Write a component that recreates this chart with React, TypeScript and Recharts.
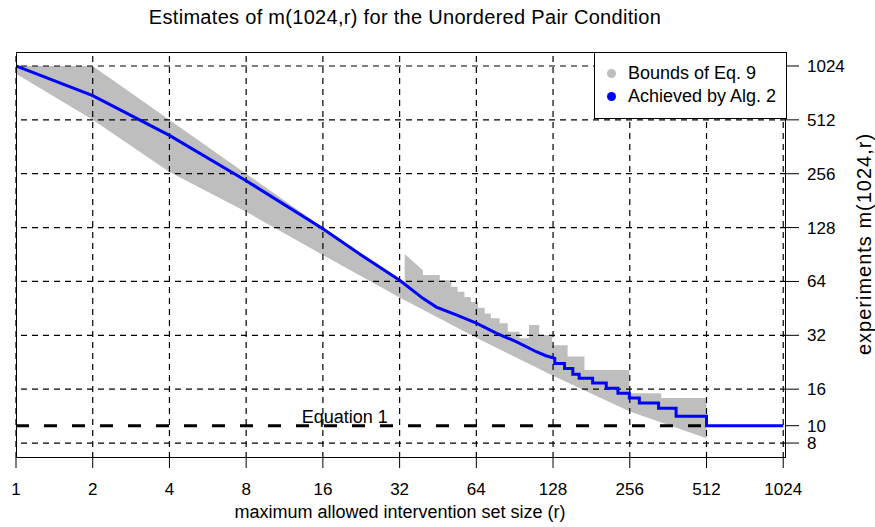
import React from 'react';
import { ComposedChart, Area, Line, XAxis, YAxis, ReferenceLine, ReferenceDot } from 'recharts';

const FONT = '"Liberation Sans", Arial, Helvetica, sans-serif';

const xTicks = [1, 2, 4, 8, 16, 32, 64, 128, 256, 512, 1024];
const yTicks = [8, 10, 16, 32, 64, 128, 256, 512, 1024];
const yGrid = [8, 16, 32, 64, 128, 256, 512, 1024];

// upper edge of the grey band (bounds of Eq. 9)
const upperR = [1, 2, 16, 22.6, 32, 33.5, 33.5, 39.5, 39.5, 46, 46, 51, 51, 54, 54, 57.5, 57.5, 61, 61, 65, 65, 69, 69, 73, 73, 79, 79, 85, 85, 94.5, 94.5, 103, 103, 113, 113, 127, 127, 146, 146, 170, 170, 255, 255, 340, 340, 512];
const upperV = [1024, 1024, 128, 91, 66, 64, 91, 74, 69.6, 69.6, 65, 65, 59.8, 59.8, 56, 56, 52.4, 52.4, 49.1, 49.1, 45.7, 45.7, 42.4, 42.4, 39.8, 39.8, 37.4, 37.4, 33.5, 33.5, 30.8, 30.8, 36.6, 36.6, 32.1, 32.1, 28.2, 28.2, 24.4, 24.4, 20.5, 20.5, 15.2, 15.2, 14.3, 14.3];

// lower edge of the grey band
const lowerR = [1, 2, 4, 8, 16, 32, 64, 128, 256, 512];
const lowerV = [926, 512, 262, 157, 90, 52, 31, 19, 12, 8.5];

// achieved by Alg. 2 (blue)
const algR = [1, 2, 4, 8, 16, 22.6, 32, 39.5, 44.6, 53.4, 64, 76.6, 91.7, 110, 120, 130, 130, 142, 142, 153, 153, 162, 162, 183, 183, 207, 207, 230, 230, 255, 255, 279, 279, 332, 332, 389, 389, 512, 512, 1024];
const algV = [1024, 699, 419, 234, 126, 90, 65, 51.5, 46, 41.6, 37.4, 32.9, 29.5, 25.9, 24.6, 23.8, 22.3, 22.3, 20.9, 20.9, 19.4, 19.4, 18.4, 18.4, 17.3, 17.3, 16.2, 16.2, 15.2, 15.2, 14.3, 14.3, 13.4, 13.4, 12.5, 12.5, 11.3, 11.3, 10, 10];

const eq1 = 10;

const upperData = upperR.map((r, i) => ({ r, v: upperV[i] }));
const lowerData = lowerR.map((r, i) => ({ r, v: lowerV[i] }));
const algData = algR.map((r, i) => ({ r, v: algV[i] }));

const legendItems = [
  { name: 'Bounds of Eq. 9', color: '#BEBEBE' },
  { name: 'Achieved by Alg. 2', color: '#0000FF' },
];

export default function App() {
  return (
    <div style={{ position: 'absolute', left: 0, top: 0, width: 875, height: 527, background: '#fff', fontFamily: FONT }}>
      <ComposedChart width={875} height={527} margin={{ top: 52, right: 0, bottom: 0, left: 16 }}>
        <XAxis
          dataKey="r"
          type="number"
          scale="log"
          domain={[1, 1050]}
          allowDataOverflow
          ticks={xTicks}
          interval={0}
          height={69}
          axisLine={false}
          tickLine={{ stroke: '#000' }}
          tickSize={10}
          tickMargin={15}
          tick={{ fill: '#000', fontSize: 17, fontFamily: FONT }}
        />
        <YAxis
          orientation="right"
          type="number"
          scale="log"
          domain={[6.6, 1226]}
          allowDataOverflow
          ticks={yTicks}
          interval={0}
          width={89}
          axisLine={false}
          tickLine={{ stroke: '#000' }}
          tickSize={13}
          tickMargin={8}
          tick={{ fill: '#000', fontSize: 17, fontFamily: FONT }}
        />
        <Area data={upperData} dataKey="v" type="linear" stroke="none" fill="#BEBEBE" fillOpacity={1} baseValue="dataMin" isAnimationActive={false} />
        <Area data={lowerData} dataKey="v" type="linear" stroke="none" fill="#FFFFFF" fillOpacity={1} baseValue="dataMin" isAnimationActive={false} />
        {xTicks.map((x) => (
          <ReferenceLine key={`gx${x}`} x={x} stroke="#000" strokeWidth={1.2} strokeDasharray="6 5" />
        ))}
        {yGrid.map((y) => (
          <ReferenceLine key={`gy${y}`} y={y} stroke="#000" strokeWidth={1.2} strokeDasharray="6 5" />
        ))}
        <ReferenceLine segment={[{ x: 1, y: eq1 }, { x: 512, y: eq1 }]} stroke="#000" strokeWidth={3} strokeDasharray="13 15" />
        <ReferenceDot
          x={19.5}
          y={eq1}
          r={0}
          fill="none"
          stroke="none"
          label={{ value: 'Equation 1', position: 'top', offset: 3, fill: '#000', fontSize: 18, fontFamily: FONT }}
        />
        <Line data={algData} dataKey="v" type="linear" stroke="#0000FF" strokeWidth={3} dot={false} isAnimationActive={false} />
      </ComposedChart>

      {/* plot frame */}
      <div style={{ position: 'absolute', left: 16, top: 52, width: 770, height: 406, border: '1px solid #000', boxSizing: 'border-box', pointerEvents: 'none' }} />

      <div style={{ position: 'absolute', left: 0, width: 810, top: 6, textAlign: 'center', fontSize: 20, letterSpacing: 0.3, color: '#000' }}>
        Estimates of m(1024,r) for the Unordered Pair Condition
      </div>
      <div style={{ position: 'absolute', left: 0, width: 800, top: 502, textAlign: 'center', fontSize: 18, color: '#000' }}>
        maximum allowed intervention set size (r)
      </div>
      <div style={{ position: 'absolute', left: 864, top: 244, transform: 'translate(-50%, -50%) rotate(-90deg)', whiteSpace: 'nowrap', fontSize: 20, letterSpacing: 1, color: '#000' }}>
        experiments m(1024,r)
      </div>

      {/* legend */}
      <div style={{ position: 'absolute', left: 594, top: 52, width: 193, height: 67, border: '1px solid #000', boxSizing: 'border-box', background: '#fff' }}>
        {legendItems.map((it, i) => (
          <div key={it.name} style={{ position: 'absolute', left: 0, top: 9 + i * 23, height: 23, display: 'flex', alignItems: 'center', whiteSpace: 'nowrap', fontSize: 18, color: '#000' }}>
            <span style={{ display: 'inline-block', width: 9, height: 9, borderRadius: '50%', background: it.color, marginLeft: 12, marginRight: 12 }} />
            {it.name}
          </div>
        ))}
      </div>
    </div>
  );
}
